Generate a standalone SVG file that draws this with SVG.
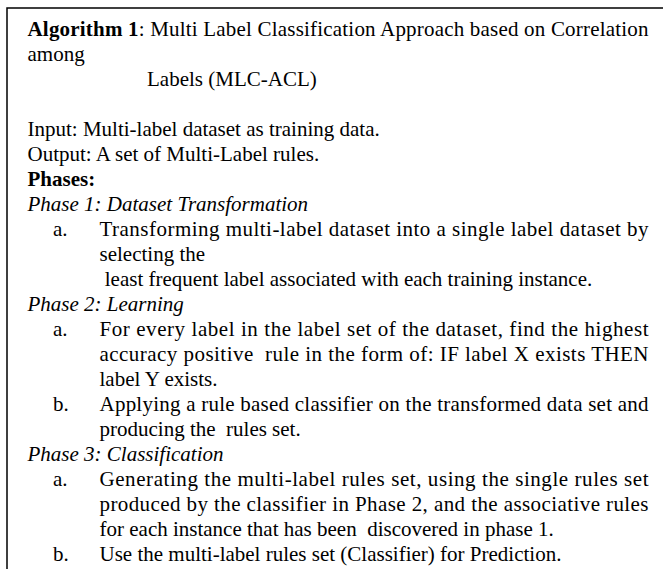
<svg xmlns="http://www.w3.org/2000/svg" width="663" height="569" viewBox="0 0 663 569">
<style>
text{font-family:"Liberation Serif","Times New Roman",serif;font-size:21px;fill:#000}
.b{font-weight:bold}
.i{font-style:italic}
.frame{fill:none;stroke:#000;stroke-width:1.5}
</style>
<rect width="663" height="569" fill="#fff"/>
<g id="frame">
<path class="frame" d="M7,569 V8 H663"/>
</g>
<g id="title">
<text x="27.5" y="36" textLength="621" lengthAdjust="spacing"><tspan class="b">Algorithm 1</tspan>: Multi Label Classification Approach based on Correlation</text>
<text x="27.5" y="61">among</text>
<text x="147" y="86">Labels (MLC-ACL)</text>
</g>
<g id="io">
<text x="27.5" y="136">Input: Multi-label dataset as training data.</text>
<text x="27.5" y="161">Output: A set of Multi-Label rules.</text>
<text x="27.5" y="186" class="b">Phases:</text>
</g>
<g id="phase1">
<text x="27.5" y="211" class="i">Phase 1: Dataset Transformation</text>
<text x="53" y="236">a.</text>
<text x="99.5" y="236" textLength="549" lengthAdjust="spacing">Transforming multi-label dataset into a single label dataset by</text>
<text x="99.5" y="261">selecting the</text>
<text x="99.5" y="286" xml:space="preserve"> least frequent label associated with each training instance.</text>
</g>
<g id="phase2">
<text x="27.5" y="311" class="i">Phase 2: Learning</text>
<text x="53" y="336">a.</text>
<text x="99.5" y="336" textLength="549" lengthAdjust="spacing">For every label in the label set of the dataset, find the highest</text>
<text x="99.5" y="361" textLength="549" lengthAdjust="spacing" xml:space="preserve">accuracy positive  rule in the form of: IF label X exists THEN</text>
<text x="99.5" y="386">label Y exists.</text>
<text x="53" y="411">b.</text>
<text x="99.5" y="411" textLength="549" lengthAdjust="spacing">Applying a rule based classifier on the transformed data set and</text>
<text x="99.5" y="436" xml:space="preserve">producing the  rules set.</text>
</g>
<g id="phase3">
<text x="27.5" y="461" class="i">Phase 3: Classification</text>
<text x="53" y="486">a.</text>
<text x="99.5" y="486" textLength="549" lengthAdjust="spacing">Generating the multi-label rules set, using the single rules set</text>
<text x="99.5" y="511" textLength="549" lengthAdjust="spacing">produced by the classifier in Phase 2, and the associative rules</text>
<text x="99.5" y="536" xml:space="preserve">for each instance that has been  discovered in phase 1.</text>
<text x="53" y="561">b.</text>
<text x="99.5" y="561">Use the multi-label rules set (Classifier) for Prediction.</text>
</g>
</svg>
